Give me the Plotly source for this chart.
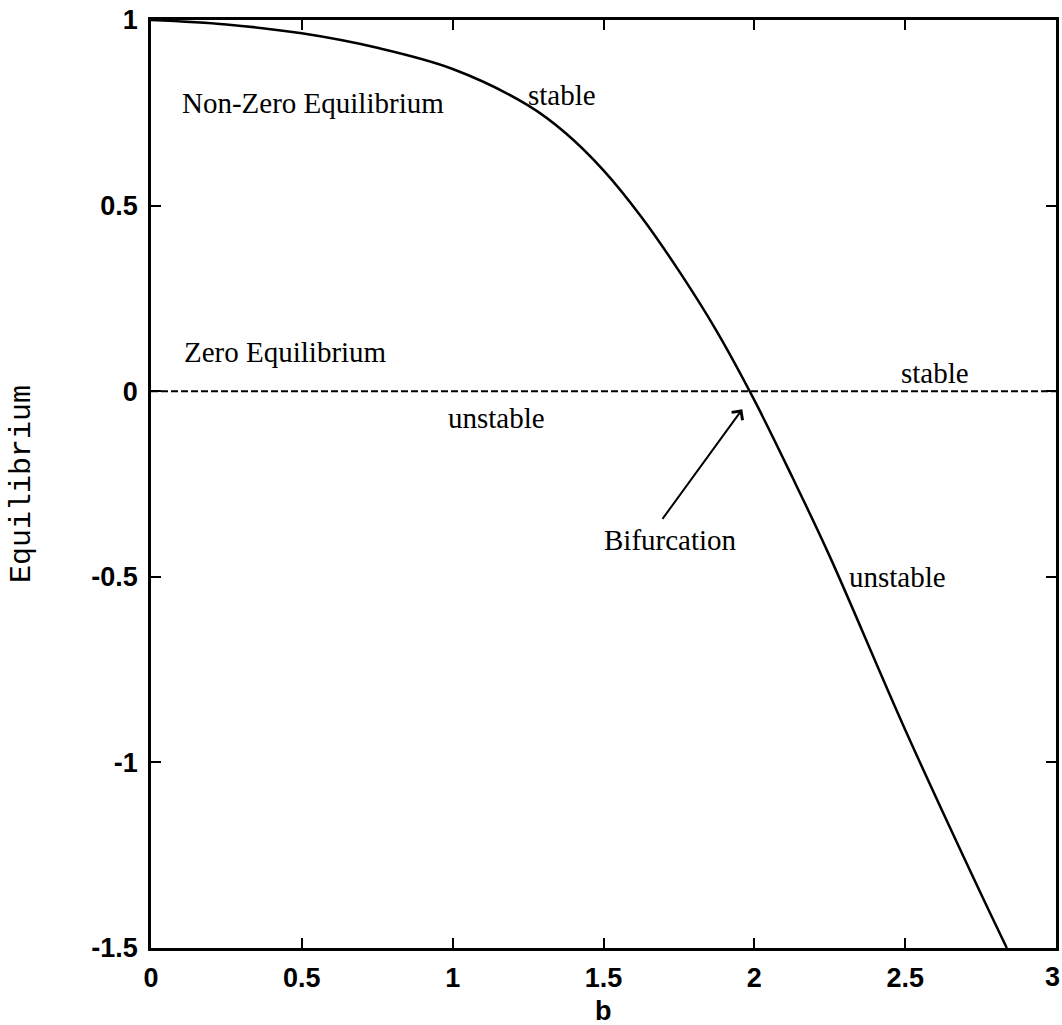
import plotly.graph_objects as go

# Non-zero equilibrium branch as a function of the parameter b
b_vals = [0.0, 0.25, 0.5, 0.75, 1.0, 1.25, 1.375, 1.5, 1.625, 1.75, 1.875, 2.0,
          2.125, 2.25, 2.5, 2.75, 2.837]
eq_vals = [1.0, 0.988, 0.964, 0.925, 0.868, 0.77, 0.695, 0.595, 0.47, 0.324, 0.162, -0.024,
           -0.23, -0.445, -0.912, -1.352, -1.5]

# Zero equilibrium branch
zero_b = [0.0, 3.0]
zero_eq = [0.0, 0.0]

x_ticks = [0, 0.5, 1, 1.5, 2, 2.5, 3]
x_ticktext = ["0", "0.5", "1", "1.5", "2", "2.5", "3"]
y_ticks = [-1.5, -1, -0.5, 0, 0.5, 1]
y_ticktext = ["-1.5", "-1", "-0.5", "0", "0.5", "1"]

SERIF = "Liberation Serif, Times New Roman, serif"
SANS = "Liberation Sans, Arial, sans-serif"
MONO = "Liberation Mono, Courier New, monospace"
TICKFONT = dict(family=SANS, size=27, color="black", weight="bold")

fig = go.Figure()
fig.add_trace(go.Scatter(x=zero_b, y=zero_eq, mode="lines",
                         line=dict(color="black", width=2, dash="7px,3px"),
                         showlegend=False, hoverinfo="skip"))
fig.add_trace(go.Scatter(x=b_vals, y=eq_vals, mode="lines",
                         line=dict(color="black", width=2.5, shape="spline", smoothing=1.0),
                         showlegend=False))

labels = [
    ("Non-Zero Equilibrium", 0.096, 0.776, "left"),
    ("stable", 1.242, 0.798, "left"),
    ("Zero Equilibrium", 0.103, 0.105, "left"),
    ("unstable", 1.146, -0.073, "center"),
    ("stable", 2.48, 0.048, "left"),
    ("unstable", 2.308, -0.501, "left"),
    ("Bifurcation", 1.722, -0.402, "center"),
]
for text, x, y, anchor in labels:
    fig.add_annotation(x=x, y=y, text=text, showarrow=False, xanchor=anchor,
                       yanchor="middle", font=dict(family=SERIF, size=29, color="black"))

# Arrow pointing at the bifurcation point
fig.add_annotation(x=1.96, y=-0.0485, ax=1.692, ay=-0.348, xref="x", yref="y",
                   axref="x", ayref="y", text="", showarrow=True,
                   arrowhead=4, arrowsize=1.3, arrowwidth=2, arrowcolor="black")

# The last x tick label sits flush against the right edge of the figure
fig.add_annotation(x=x_ticks[-1], y=0, xref="x", yref="paper", text=x_ticktext[-1],
                   showarrow=False, xanchor="right", yanchor="top", xshift=6, yshift=-12,
                   font=TICKFONT)

# Axis titles
fig.add_annotation(xref="paper", yref="paper", x=-0.1425, y=0.5, text="Equilibrium",
                   textangle=-90, showarrow=False, xanchor="center", yanchor="middle",
                   font=dict(family=MONO, size=30, color="black"))
fig.add_annotation(xref="paper", yref="paper", x=0.5, y=-0.0495, text="b",
                   showarrow=False, xanchor="center", yanchor="top",
                   font=dict(family=SANS, size=27, color="black", weight="bold"))

axis_common = dict(showline=True, linecolor="black", linewidth=2.5, mirror="ticks",
                   ticks="inside", ticklen=10, tickwidth=2, tickcolor="black",
                   showgrid=False, zeroline=False, tickfont=TICKFONT)

fig.update_xaxes(range=[0, 3], tickvals=x_ticks[:-1], ticktext=x_ticktext[:-1],
                 ticklabelstandoff=4, **axis_common)
fig.update_yaxes(range=[-1.5, 1], tickvals=y_ticks, ticktext=y_ticktext,
                 ticklabelstandoff=5, **axis_common)

fig.update_layout(width=1062, height=1025, plot_bgcolor="white", paper_bgcolor="white",
                  margin=dict(l=151, r=6, t=20, b=77, autoexpand=False),
                  showlegend=False)

fig.write_html("out.html")
